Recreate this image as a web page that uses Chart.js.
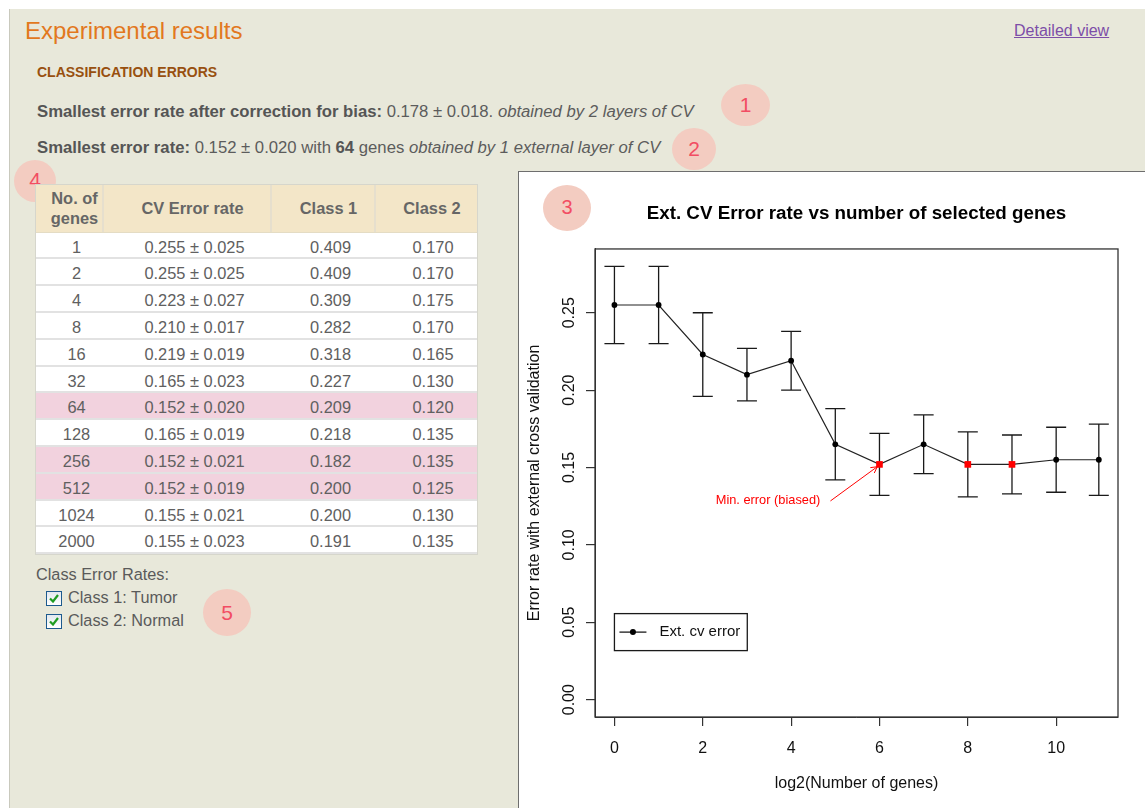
<!DOCTYPE html>
<html>
<head>
<meta charset="utf-8">
<title>Experimental results</title>
<script src="https://cdn.jsdelivr.net/npm/chart.js@4.4.1/dist/chart.umd.min.js"></script>
<style>
  html, body { margin: 0; padding: 0; }
  body { position: relative; width: 1145px; height: 808px; overflow: hidden; background: #fff;
         font-family: "Liberation Sans", Arial, sans-serif; color: #5c5c5c; }
  .abs { position: absolute; white-space: nowrap; line-height: 1; }
  #panel { position: absolute; left: 9px; top: 9px; right: 0; bottom: 0; background: #e8e8da; border-left: 1px solid #c9c9bd; }
  h1 { margin: 0; font-weight: normal; font-size: 24px; color: #e2781e; left: 25px; top: 19px; }
  #detail { left: 1014px; top: 23px; font-size: 16px; color: #7d4ea8; text-decoration: underline; }
  h2 { margin: 0; font-size: 14px; font-weight: bold; color: #98500f; left: 37px; top: 65.4px; }
  .sum { font-size: 16.7px; left: 37px; }
  .sum b { color: #555; }
  .bubble { position: absolute; border-radius: 50%; background: #f3ccc1; color: #f24d63; font-size: 21px;
            display: flex; align-items: center; justify-content: center; }
  #tbl { position: absolute; left: 35px; top: 184px; width: 441px; border: 1px solid #d6d6cc; background: #fff;
         font-size: 16.4px; color: #606060; z-index: 2; }
  .row { display: flex; height: 26.8px; box-sizing: border-box; border-bottom: 2px solid #e2e2e2; }
  .row.hl { background: #f2d2de; }
  .row > div { box-sizing: border-box; padding-left: 13px; text-align: center; line-height: 28px; white-space: nowrap; }
  .row.head { height: 47.7px; background: #f3e6c8; font-weight: bold; color: #666; border-bottom: 1px solid #e4dcc4; }
  .row.head > div { display: flex; align-items: center; justify-content: center; padding-left: 11px;
                    line-height: 20.7px; border-right: 2px solid #e6dfcd; }
  .row.head > div:last-child { border-right: 0; }
  .c1 { width: 68px; } .c2 { width: 168px; } .c3 { width: 104px; } .c4 { width: 101px; }
  .lbl { font-size: 16.3px; color: #5a5a5a; }
  .cb { position: absolute; width: 14px; height: 13px; border: 1px solid #1d5a8e;
        background: linear-gradient(#e3e9ef, #fff); }
  .cb svg { position: absolute; left: 2px; top: 2px; }
  #plotbox { position: absolute; left: 518px; top: 171px; width: 700px; height: 700px; background: #fff;
             border: 1px solid #6e6e6e; }
  #plot { position: absolute; left: 0; top: 0; }
</style>
</head>
<body>
<div id="panel"></div>
<h1 class="abs">Experimental results</h1>
<div id="detail" class="abs">Detailed view</div>
<h2 class="abs">CLASSIFICATION ERRORS</h2>
<div class="abs sum" style="top:104.2px"><b>Smallest error rate after correction for bias:</b> <span id="corr"></span> <i>obtained by 2 layers of CV</i></div>
<div class="abs sum" style="top:139.9px" id="best"></div>

<div class="bubble" style="left:721px;top:84px;width:49px;height:42px">1</div>
<div class="bubble" style="left:672px;top:128px;width:44px;height:42px">2</div>
<div class="bubble" style="left:14px;top:160px;width:42px;height:42px;z-index:1"><span style="margin-top:-2px">4</span></div>
<div class="bubble" style="left:203px;top:589px;width:48px;height:47px">5</div>

<div id="tbl"></div>

<div class="abs lbl" style="left:36px;top:566.1px">Class Error Rates:</div>
<div class="cb" style="left:46px;top:591px"></div>
<div class="abs lbl" style="left:68px;top:588.8px" id="cls1"></div>
<div class="cb" style="left:46px;top:613.5px"></div>
<div class="abs lbl" style="left:68px;top:612.1px" id="cls2"></div>

<div id="plotbox"><canvas id="plot" width="626" height="636"></canvas></div>
<div class="bubble" style="left:543px;top:184.5px;width:48px;height:46px;z-index:3;font-size:20px">3</div>

<script>
// CV error table + error-bar plot of the external CV error rate
const genes = [1, 2, 4, 8, 16, 32, 64, 128, 256, 512, 1024, 2000]
const cvError = [0.255, 0.255, 0.223, 0.210, 0.219, 0.165, 0.152, 0.165, 0.152, 0.152, 0.155, 0.155]
const cvSd = [0.025, 0.025, 0.027, 0.017, 0.019, 0.023, 0.020, 0.019, 0.021, 0.019, 0.021, 0.023]
const class1Error = [0.409, 0.409, 0.309, 0.282, 0.318, 0.227, 0.209, 0.218, 0.182, 0.200, 0.200, 0.191]
const class2Error = [0.170, 0.170, 0.175, 0.170, 0.165, 0.130, 0.120, 0.135, 0.135, 0.125, 0.130, 0.135]
const minGenes = [64, 256, 512]
const classNames = ['Tumor', 'Normal']
const corrected = [0.178, 0.018]
const xTicks = [0, 2, 4, 6, 8, 10]
const yTicks = [0, 0.05, 0.10, 0.15, 0.20, 0.25]

// where the note, the arrow and the legend sit, in data units
const minNote = { text: 'Min. error (biased)', x: 4.66, y: 0.129 }
const minArrow = { from: [4.89, 0.1284], to: [5.95, 0.1505] }
const legendAt = [0, 0.0556]

;(function () {
  const $ = (id) => document.getElementById(id)
  const f3 = (v) => v.toFixed(3)

  // summary lines
  $('corr').textContent = `${f3(corrected[0])} \u00b1 ${f3(corrected[1])}.`
  const best = cvError.indexOf(Math.min(...cvError))
  $('best').innerHTML = `<b>Smallest error rate:</b> ${f3(cvError[best])} \u00b1 ${f3(cvSd[best])} with <b>${genes[best]}</b> genes <i>obtained by 1 external layer of CV</i>`
  $('cls1').textContent = `Class 1: ${classNames[0]}`
  $('cls2').textContent = `Class 2: ${classNames[1]}`
  document.querySelectorAll('.cb').forEach((b) => {
    b.innerHTML = '<svg width="10" height="9" viewBox="0 0 10 9"><path d="M1 4.5 L4 7.5 L9 1" fill="none" stroke="#1f9c22" stroke-width="2.2"/></svg>'
  })

  // table
  $('tbl').innerHTML = `
    <div class="row head"><div class="c1">No. of<br>genes</div><div class="c2">CV Error rate</div><div class="c3">Class 1</div><div class="c4">Class 2</div></div>` +
    genes.map((g, i) => `
    <div class="row${minGenes.includes(g) ? ' hl' : ''}">
      <div class="c1">${g}</div><div class="c2">${f3(cvError[i])} \u00b1 ${f3(cvSd[i])}</div>
      <div class="c3">${f3(class1Error[i])}</div><div class="c4">${f3(class2Error[i])}</div>
    </div>`).join('')

  Chart.defaults.font.family = '"Liberation Sans", Arial, sans-serif'
  const ink = '#1a1a1a'
  const isMin = genes.map((g) => minGenes.includes(g))

  const errorBars = {
    id: 'errorBars',
    beforeDatasetsDraw(chart) {
      const { ctx, scales: { x, y } } = chart
      ctx.save()
      ctx.strokeStyle = ink
      ctx.lineWidth = 1.3
      genes.forEach((g, i) => {
        const px = x.getPixelForValue(Math.log2(g))
        const hi = y.getPixelForValue(cvError[i] + cvSd[i])
        const lo = y.getPixelForValue(cvError[i] - cvSd[i])
        ctx.beginPath()
        ctx.moveTo(px, hi); ctx.lineTo(px, lo)
        ctx.moveTo(px - 10, hi); ctx.lineTo(px + 10, hi)
        ctx.moveTo(px - 10, lo); ctx.lineTo(px + 10, lo)
        ctx.stroke()
      })
      ctx.restore()
    },
  }

  const extras = {
    id: 'extras',
    afterDraw(chart) {
      const { ctx, chartArea: a, scales: { x, y } } = chart
      ctx.save()
      // R style box round the plot region
      ctx.strokeStyle = '#333'
      ctx.lineWidth = 1.3
      ctx.strokeRect(a.left, a.top, a.right - a.left, a.bottom - a.top)

      // note + arrow to the biased minimum
      ctx.fillStyle = ctx.strokeStyle = '#ff0000'
      ctx.lineWidth = 1
      ctx.font = '12.8px "Liberation Sans", Arial, sans-serif'
      ctx.textAlign = 'right'
      ctx.textBaseline = 'middle'
      ctx.fillText(minNote.text, x.getPixelForValue(minNote.x), y.getPixelForValue(minNote.y))
      const x0 = x.getPixelForValue(minArrow.from[0]), y0 = y.getPixelForValue(minArrow.from[1])
      const x1 = x.getPixelForValue(minArrow.to[0]), y1 = y.getPixelForValue(minArrow.to[1])
      const ang = Math.atan2(y1 - y0, x1 - x0)
      ctx.beginPath()
      ctx.moveTo(x0, y0); ctx.lineTo(x1, y1)
      ctx.moveTo(x1 - 7 * Math.cos(ang - 0.5), y1 - 7 * Math.sin(ang - 0.5)); ctx.lineTo(x1, y1)
      ctx.lineTo(x1 - 7 * Math.cos(ang + 0.5), y1 - 7 * Math.sin(ang + 0.5))
      ctx.stroke()

      // legend box
      const label = chart.data.datasets[0].label
      ctx.font = '15px "Liberation Sans", Arial, sans-serif'
      const tw = ctx.measureText(label).width
      const lx = x.getPixelForValue(legendAt[0]), ly = y.getPixelForValue(legendAt[1])
      const w = 45 + tw + 7, h = 37, my = ly + h / 2
      ctx.fillStyle = '#fff'
      ctx.fillRect(lx, ly, w, h)
      ctx.strokeStyle = ink
      ctx.lineWidth = 1.3
      ctx.strokeRect(lx, ly, w, h)
      ctx.beginPath(); ctx.moveTo(lx + 5, my); ctx.lineTo(lx + 32, my); ctx.stroke()
      ctx.fillStyle = '#000'
      ctx.beginPath(); ctx.arc(lx + 18.5, my, 3, 0, Math.PI * 2); ctx.fill()
      ctx.fillStyle = '#111'
      ctx.textAlign = 'left'
      ctx.fillText(label, lx + 45, my)
      ctx.restore()
    },
  }

  new Chart($('plot'), {
    type: 'scatter',
    data: {
      datasets: [{
        label: 'Ext. cv error',
        data: genes.map((g, i) => ({ x: Math.log2(g), y: cvError[i] })),
        showLine: true,
        borderColor: '#222',
        borderWidth: 1.2,
        pointStyle: isMin.map((m) => (m ? 'rect' : 'circle')),
        pointRadius: isMin.map((m) => (m ? 4.7 : 2.9)),
        pointBackgroundColor: isMin.map((m) => (m ? '#ff0000' : '#000')),
        pointBorderWidth: 0,
      }],
    },
    options: {
      responsive: false,
      animation: false,
      events: [],
      layout: { padding: { left: 0, right: 27, top: 0, bottom: 0 } },
      plugins: {
        legend: { display: false },
        tooltip: { enabled: false },
        title: {
          display: true,
          fullSize: false, // centre over the plot region, like R
          text: 'Ext. CV Error rate vs number of selected genes',
          color: '#000',
          font: { size: 18.8, weight: 'bold' },
          padding: { top: 30.3, bottom: 24.1 },
        },
      },
      scales: {
        x: {
          type: 'linear',
          min: -0.44,
          max: 11.40,
          afterBuildTicks: (s) => { s.ticks = xTicks.map((v) => ({ value: v })) },
          afterFit: (s) => { s.height = 91 },
          grid: { drawOnChartArea: false, tickLength: 9, color: '#333', lineWidth: 1.2 },
          border: { color: '#333' },
          ticks: { color: '#111', font: { size: 16 }, padding: 13, maxRotation: 0, autoSkip: false, callback: (v) => String(v) },
          title: { display: true, text: 'log2(Number of genes)', color: '#111', font: { size: 16 }, padding: { top: 0, bottom: 14.4 } },
        },
        y: {
          type: 'linear',
          min: -0.0112,
          max: 0.2912,
          afterBuildTicks: (s) => { s.ticks = yTicks.map((v) => ({ value: v })) },
          afterFit: (s) => { s.width = 76 },
          grid: { drawOnChartArea: false, tickLength: 9, color: '#333', lineWidth: 1.2 },
          border: { color: '#333' },
          ticks: { color: '#111', font: { size: 16 }, padding: 1, minRotation: 90, maxRotation: 90, crossAlign: 'center', autoSkip: false, callback: (v) => v.toFixed(2) },
          title: { display: true, text: 'Error rate with external cross validation', color: '#111', font: { size: 16 }, padding: { top: 6.1, bottom: 0 } },
        },
      },
    },
    plugins: [errorBars, extras],
  })
})()
</script>
</body>
</html>
